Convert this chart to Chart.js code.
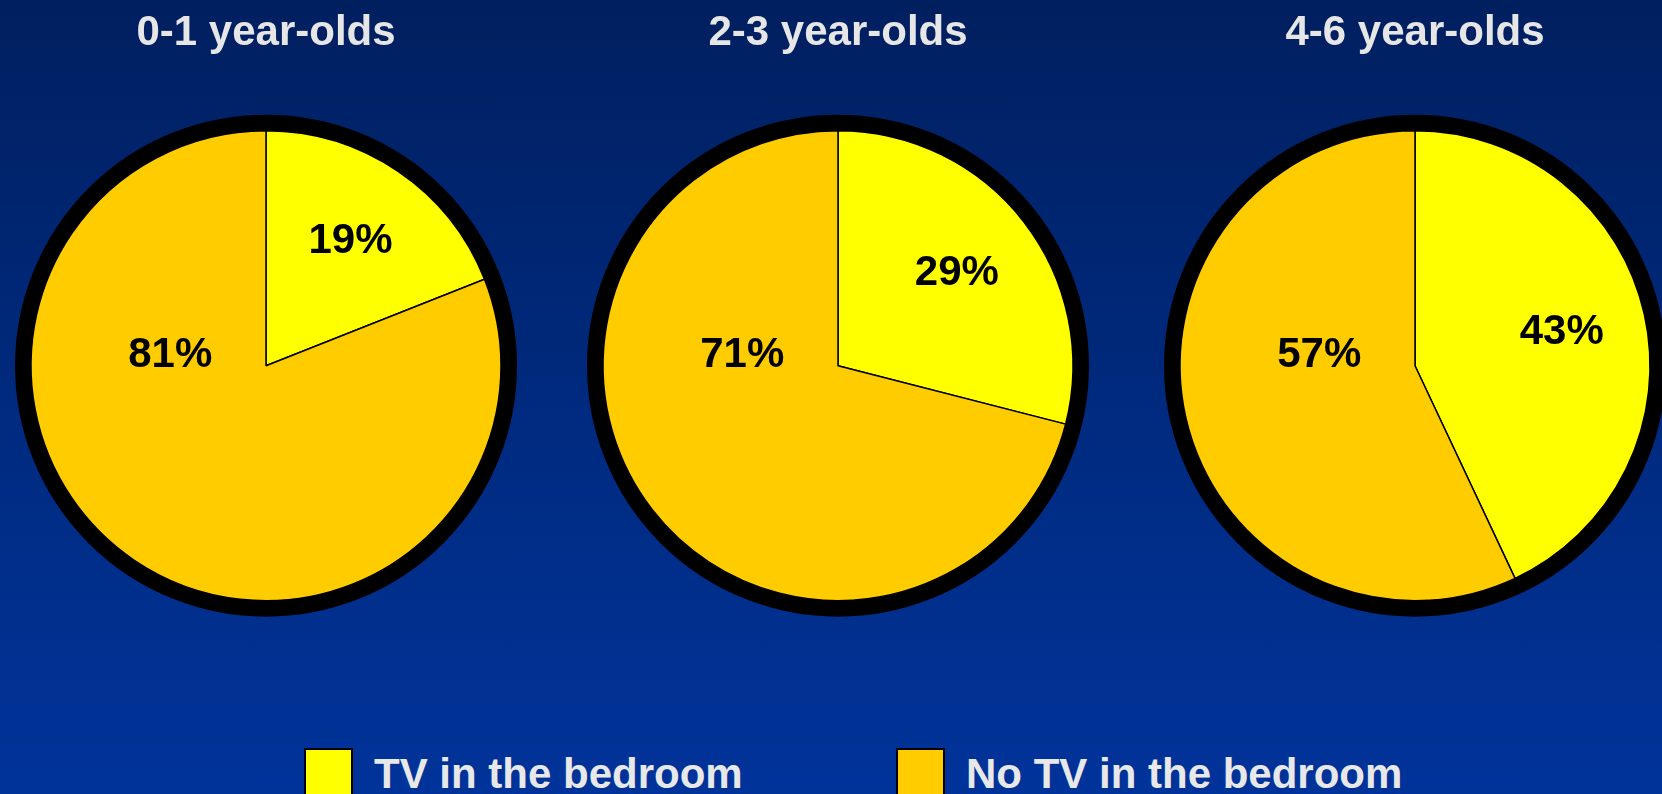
<!DOCTYPE html>
<html>
<head>
<meta charset="utf-8">
<script src="https://cdn.jsdelivr.net/npm/chart.js@4.4.1/dist/chart.umd.min.js"></script>
<style>
  html, body {
    margin: 0;
    padding: 0;
    width: 1662px;
    height: 794px;
    overflow: hidden;
    background: linear-gradient(to bottom, #001f5f 0%, #002a7e 50%, #00339a 100%);
    font-family: "Liberation Sans", Arial, sans-serif;
  }
  .pie-box { position: absolute; top: 0; width: 520px; height: 740px; }
  .legend { position: absolute; top: 748px; left: 0; width: 1662px; height: 60px; }
  .legend-item { position: absolute; top: 0; height: 60px; }
  .legend-swatch {
    position: absolute; left: 0; top: 0;
    width: 45px; height: 56px;
    border: 2px solid #000;
  }
  .legend-text {
    position: absolute; left: 70px; top: 2px;
    font-size: 42px; font-weight: bold; color: #e8e8e8;
    white-space: nowrap; line-height: 48px;
  }
</style>
</head>
<body>

<div class="pie-box" style="left:6px"><canvas id="pie0" width="520" height="740"></canvas></div>
<div class="pie-box" style="left:578px"><canvas id="pie1" width="520" height="740"></canvas></div>
<div class="pie-box" style="left:1155px"><canvas id="pie2" width="520" height="740"></canvas></div>

<div class="legend" id="legend"></div>

<script>
const ageGroups = ['0-1 year-olds', '2-3 year-olds', '4-6 year-olds'];
const categories = ['TV in the bedroom', 'No TV in the bedroom'];
const tvInBedroom = [19, 29, 43];
const noTvInBedroom = [81, 71, 57];
const sliceColors = ['#FFFF00', '#FFCC00'];

// black ring around each pie + percentage labels inside the slices
const ringAndLabels = {
  id: 'ringAndLabels',
  beforeDatasetsDraw(chart, args, opts) {
    const arc = chart.getDatasetMeta(0).data[0];
    if (!arc) return;
    const ctx = chart.ctx;
    ctx.save();
    ctx.beginPath();
    ctx.arc(arc.x, arc.y, arc.outerRadius + opts.ringWidth / 2, 0, Math.PI * 2);
    ctx.lineWidth = opts.ringWidth;
    ctx.strokeStyle = '#000';
    ctx.stroke();
    ctx.restore();
  },
  afterDatasetsDraw(chart, args, opts) {
    const ctx = chart.ctx;
    const values = chart.data.datasets[0].data;
    ctx.save();
    ctx.font = 'bold 42px "Liberation Sans", Arial, sans-serif';
    ctx.fillStyle = '#000';
    ctx.textAlign = 'center';
    ctx.textBaseline = 'middle';
    chart.getDatasetMeta(0).data.forEach((arc, i) => {
      const p = arc.getProps(['x', 'y', 'startAngle', 'endAngle', 'outerRadius']);
      const place = opts.placement[i];
      const ang = place.angle != null ? place.angle : (p.startAngle + p.endAngle) / 2;
      const r = p.outerRadius * place.frac;
      ctx.fillText(values[i] + '%', p.x + Math.cos(ang) * r, p.y + Math.sin(ang) * r);
    });
    ctx.restore();
  }
};

ageGroups.forEach((group, idx) => {
  const ctx = document.getElementById('pie' + idx).getContext('2d');
  new Chart(ctx, {
    type: 'pie',
    data: {
      labels: categories,
      datasets: [{
        data: [tvInBedroom[idx], noTvInBedroom[idx]],
        backgroundColor: sliceColors,
        borderColor: '#000',
        borderWidth: 1.5,
      }],
    },
    options: {
      responsive: false,
      animation: false,
      events: [],
      radius: 235,
      layout: { padding: { bottom: 77 } },
      plugins: {
        legend: { display: false },
        tooltip: { enabled: false },
        title: {
          display: true,
          text: group,
          color: '#e6e6e6',
          font: { family: '"Liberation Sans", Arial, sans-serif', size: 42, weight: 'bold' },
          padding: { top: 8, bottom: 10 },
        },
        ringAndLabels: {
          ringWidth: 16,
          placement: [
            { frac: 0.64 },
            { angle: Math.PI * 1.035, frac: 0.41 },
          ],
        },
      },
    },
    plugins: [ringAndLabels],
  });
});

// legend
const legendEl = document.getElementById('legend');
const legendLeft = [304, 896];
categories.forEach((cat, i) => {
  const item = document.createElement('div');
  item.className = 'legend-item';
  item.style.left = legendLeft[i] + 'px';
  item.innerHTML = '<div class="legend-swatch" style="background:' + sliceColors[i] + '"></div>' +
    '<div class="legend-text">' + cat + '</div>';
  legendEl.appendChild(item);
});
</script>
</body>
</html>
